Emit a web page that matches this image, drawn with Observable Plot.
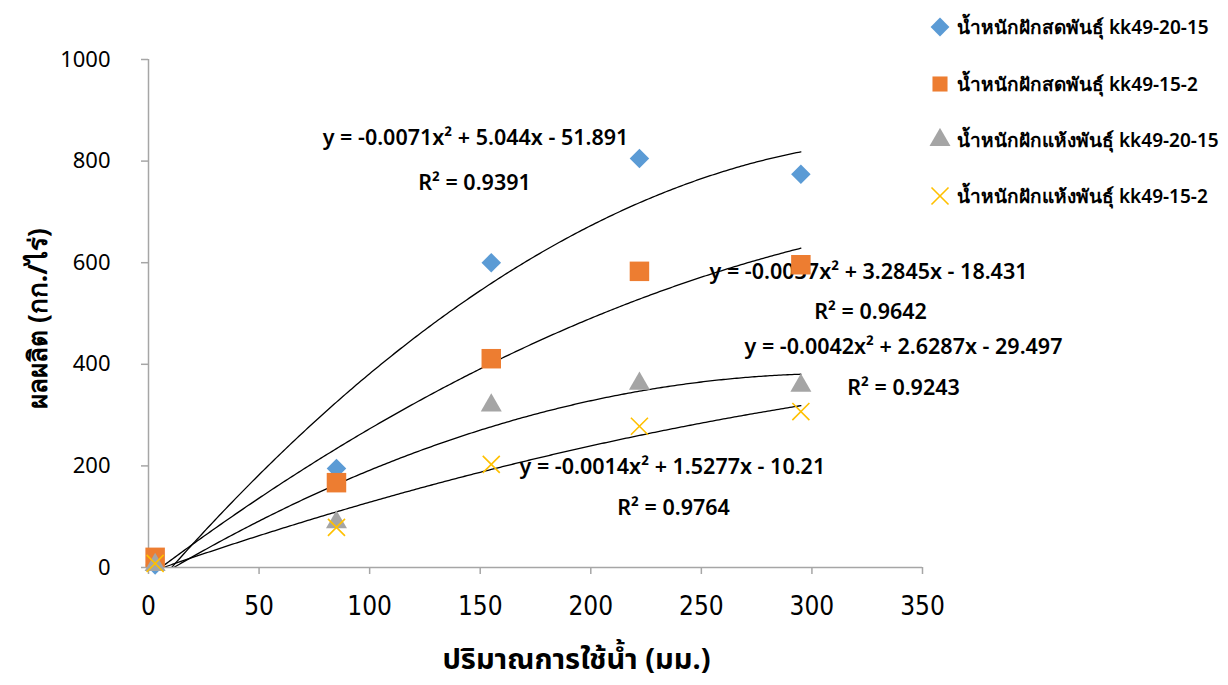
<!DOCTYPE html>
<html><head><meta charset="utf-8">
<script src="https://cdn.jsdelivr.net/npm/d3@7"></script>
<script src="https://cdn.jsdelivr.net/npm/@observablehq/plot@0.6"></script>
<style>
body{margin:0;background:#fff;}
#wrap{position:relative;width:1228px;height:685px;font-family:"Noto Sans",sans-serif;}
#legend{position:absolute;left:928px;top:0;}
.row{position:absolute;left:0;width:300px;height:30px;display:flex;align-items:center;white-space:nowrap;font-size:19px;font-weight:600;color:#000;}
.row svg{width:24px;height:24px;margin-right:5px;flex:none;}
</style></head><body><div id="wrap"><div id="legend"></div></div>
<script>
const water = [3, 85, 155, 222, 295];
const fresh2015 = [5, 195, 600, 805, 774];
const fresh152 = [20, 167, 411, 583, 596];
const dry2015 = [5, 89, 319, 362, 358];
const dry152 = [8, 79, 203, 278, 307];
const seriesNames = ["น้ำหนักฝักสดพันธุ์ kk49-20-15", "น้ำหนักฝักสดพันธุ์ kk49-15-2", "น้ำหนักฝักแห้งพันธุ์ kk49-20-15", "น้ำหนักฝักแห้งพันธุ์ kk49-15-2"];
const seriesColors = ["#5B9BD5", "#ED7D31", "#A5A5A5", "#FFC000"];
const trendCoefs = [[-0.0071, 5.044, -51.891], [-0.0037, 3.2845, -18.431], [-0.0042, 2.6287, -29.497], [-0.0014, 1.5277, -10.21]];
const trendEquations = ["y = -0.0071x² + 5.044x - 51.891", "y = -0.0037x² + 3.2845x - 18.431", "y = -0.0042x² + 2.6287x - 29.497", "y = -0.0014x² + 1.5277x - 10.21"];
const rSquared = ["R² = 0.9391", "R² = 0.9642", "R² = 0.9243", "R² = 0.9764"];
const xTicks = [0, 50, 100, 150, 200, 250, 300, 350];
const yTicks = [0, 200, 400, 600, 800, 1000];
const xTitle = "ปริมาณการใช้น้ำ (มม.)";
const yTitle = "ผลผลิต (กก./ไร่)";

// label anchor positions (data coordinates)
const eqPos = [[147.9, 846], [325.6, 581], [341.4, 433], [236.9, 197]];
const r2Pos = [[147.4, 756], [326.5, 502], [341.4, 354], [237.4, 116]];

const allSeries = [fresh2015, fresh152, dry2015, dry152];
const points = allSeries.flatMap((vals, s) => vals.map((v, i) => ({x: water[i], y: v, s})));

const xmin = d3.min(water), xmax = d3.max(water);
const trend = trendCoefs.flatMap(([a, b, c], s) =>
  d3.range(xmin, xmax + 0.001, 1).map(x => ({x, y: a * x * x + b * x + c, s})));

const labels = trendEquations.map((t, i) => ({x: eqPos[i][0], y: eqPos[i][1], t}))
  .concat(rSquared.map((t, i) => ({x: r2Pos[i][0], y: r2Pos[i][1], t})));

const symbols = ["diamond2", "square", "triangle", "times"];
const radii = [8.8, 11, 7.8, 7.8];

const dotMarks = allSeries.map((vals, s) => Plot.dot(points.filter(d => d.s === s), {
  x: "x", y: "y", symbol: symbols[s], r: radii[s],
  ...(s === 3 ? {stroke: seriesColors[s], strokeWidth: 1.6, fill: "none"} : {fill: seriesColors[s], stroke: "none"})
}));

const chart = Plot.plot({
  width: 1228, height: 685,
  marginLeft: 148, marginRight: 306, marginTop: 59, marginBottom: 118,
  style: {fontFamily: '"Noto Sans", sans-serif', color: "#000", background: "transparent", overflow: "visible"},
  x: {domain: [0, 350], axis: null},
  y: {domain: [0, 1000], axis: null},
  marks: [
    Plot.text(labels, {x: "x", y: "y", text: "t", fontSize: 21.5, fontWeight: 600, fill: "#000"}),
    Plot.line(trend, {x: "x", y: "y", z: "s", stroke: "#000", strokeWidth: 1.3, clip: true}),
    Plot.ruleX([0], {stroke: "#a6a6a6", strokeWidth: 1.5}),
    Plot.ruleY([0], {stroke: "#a6a6a6", strokeWidth: 1.5}),
    Plot.axisX(xTicks, {tickSize: 7, stroke: "#a6a6a6", strokeWidth: 1.5, fill: "#000", tickPadding: 22,
      fontSize: 26, fontFamily: '"Liberation Sans Narrow", "DejaVu Sans Condensed", sans-serif', label: null}),
    Plot.axisY(yTicks, {tickSize: 7, stroke: "#a6a6a6", strokeWidth: 1.5, fill: "#000", tickPadding: 31,
      fontSize: 22, tickFormat: d => String(d), label: null}),
    Plot.text([xTitle], {frameAnchor: "bottom", dx: 41, dy: 101, fontSize: 29, fontWeight: "bold",
      fontFamily: '"Noto Sans", "Noto Sans Thai", sans-serif', fill: "#000"}),
    Plot.text([yTitle], {frameAnchor: "left", textAnchor: "middle", dx: -110, dy: 5, rotate: -90, fontSize: 26, fontWeight: "bold", fill: "#000"}),
    ...dotMarks
  ]
});
document.getElementById("wrap").prepend(chart);

// legend
const legend = document.getElementById("legend");
const legendY = [27, 84, 140, 196];
seriesNames.forEach((name, s) => {
  const row = document.createElement("div");
  row.className = "row";
  row.style.top = (legendY[s] - 15) + "px";
  const sym = d3.create("svg").attr("viewBox", "-12 -12 24 24");
  const r = Math.min(radii[s], 8.5);
  const sz = Math.PI * r * r;
  const symType = [d3.symbolDiamond2, d3.symbolSquare, d3.symbolTriangle, d3.symbolTimes][s];
  const p = sym.append("path").attr("d", d3.symbol(symType, sz)());
  if (s === 3) p.attr("fill", "none").attr("stroke", seriesColors[s]).attr("stroke-width", 1.6);
  else p.attr("fill", seriesColors[s]);
  row.appendChild(sym.node());
  const span = document.createElement("span");
  span.textContent = name;
  row.appendChild(span);
  legend.appendChild(row);
});
</script></body></html>
